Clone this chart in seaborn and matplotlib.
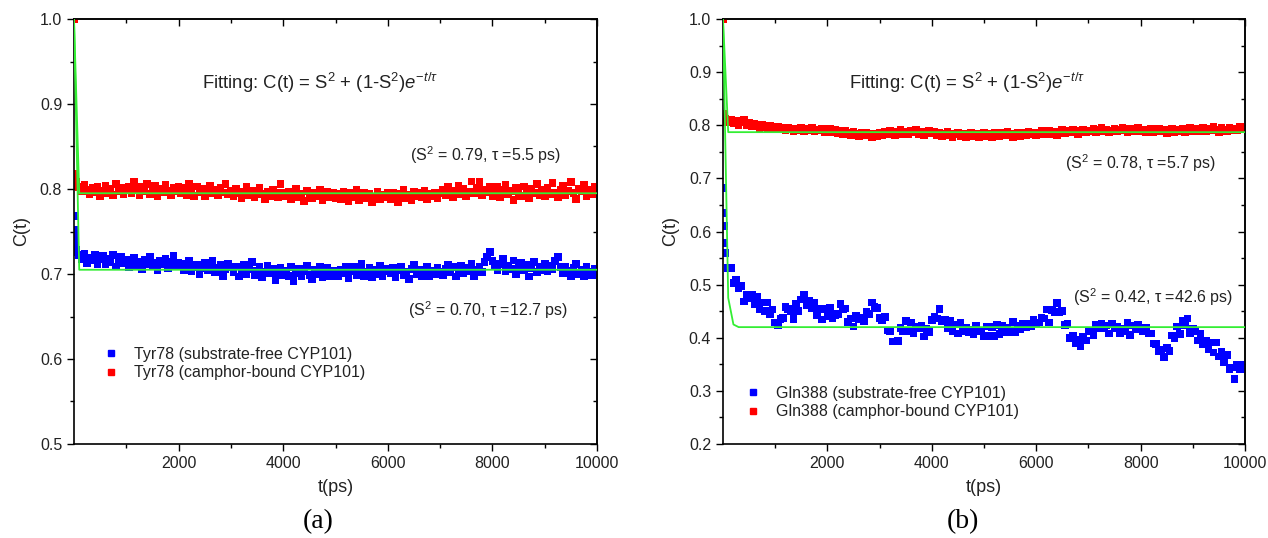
import matplotlib
matplotlib.use('Agg')
import matplotlib.pyplot as plt
import seaborn as sns
import pandas as pd
from matplotlib.ticker import MultipleLocator, FixedLocator, FormatStrFormatter
from matplotlib.lines import Line2D

sns.set_style('ticks')
plt.rcParams['font.family'] = ['Liberation Sans', 'DejaVu Sans']
plt.rcParams['mathtext.fontset'] = 'custom'
plt.rcParams['mathtext.rm'] = 'Liberation Sans'
plt.rcParams['mathtext.it'] = 'Liberation Sans:italic'
plt.rcParams['mathtext.sf'] = 'Liberation Sans'

# ---------------- data ----------------
time_ps = [0, 10, 20, 30, 40] + list(range(50, 10001, 50))

tyr_bound = [1.000, 0.818, 0.812, 0.806, 0.803,
    0.808, 0.802, 0.797, 0.805, 0.799, 0.794, 0.801, 0.796, 0.803, 0.792, 0.798, 0.804, 0.795, 0.800, 0.793, 0.806, 0.797, 0.801, 0.794, 0.799,
    0.803, 0.795, 0.808, 0.800, 0.793, 0.802, 0.797, 0.806, 0.794, 0.799, 0.804, 0.792, 0.800, 0.796, 0.805, 0.798, 0.793, 0.801, 0.797, 0.803,
    0.795, 0.801, 0.793, 0.806, 0.798, 0.792, 0.803, 0.796, 0.800, 0.791, 0.797, 0.804, 0.795, 0.799, 0.793, 0.801, 0.796, 0.806, 0.794, 0.798,
    0.792, 0.800, 0.795, 0.789, 0.797, 0.803, 0.793, 0.798, 0.790, 0.796, 0.801, 0.794, 0.788, 0.797, 0.792, 0.799, 0.795, 0.790, 0.806, 0.796,
    0.791, 0.797, 0.788, 0.795, 0.800, 0.790, 0.794, 0.786, 0.798, 0.792, 0.789, 0.796, 0.791, 0.799, 0.787, 0.793, 0.797, 0.790, 0.795, 0.789,
    0.794, 0.788, 0.797, 0.791, 0.786, 0.795, 0.790, 0.799, 0.787, 0.793, 0.796, 0.789, 0.794, 0.785, 0.791, 0.797, 0.788, 0.793, 0.790, 0.795,
    0.788, 0.796, 0.791, 0.785, 0.794, 0.799, 0.789, 0.793, 0.787, 0.797, 0.792, 0.795, 0.790, 0.798, 0.788, 0.794, 0.791, 0.796, 0.789, 0.795,
    0.799, 0.793, 0.802, 0.795, 0.790, 0.798, 0.804, 0.794, 0.800, 0.792, 0.797, 0.809, 0.795, 0.801, 0.808, 0.793, 0.799, 0.796, 0.803, 0.791,
    0.796, 0.802, 0.790, 0.799, 0.805, 0.794, 0.798, 0.787, 0.801, 0.796, 0.792, 0.803, 0.797, 0.789, 0.800, 0.795, 0.806, 0.793, 0.799, 0.791,
    0.801, 0.794, 0.807, 0.796, 0.790, 0.799, 0.804, 0.793, 0.798, 0.808, 0.795, 0.788, 0.800, 0.797, 0.805, 0.792, 0.799, 0.794, 0.802, 0.796]

tyr_free = [0.768, 0.752, 0.742, 0.735, 0.729,
    0.726, 0.722, 0.718, 0.724, 0.713, 0.719, 0.716, 0.723, 0.711, 0.717, 0.721, 0.712, 0.718, 0.714, 0.722, 0.709, 0.716, 0.720, 0.713, 0.717,
    0.708, 0.715, 0.719, 0.710, 0.714, 0.706, 0.717, 0.712, 0.720, 0.709, 0.713, 0.705, 0.716, 0.711, 0.718, 0.707, 0.714, 0.721, 0.710, 0.713,
    0.712, 0.705, 0.709, 0.716, 0.703, 0.708, 0.711, 0.700, 0.707, 0.713, 0.704, 0.709, 0.715, 0.702, 0.707, 0.711, 0.698, 0.706, 0.712, 0.708,
    0.702, 0.709, 0.697, 0.705, 0.711, 0.700, 0.706, 0.714, 0.699, 0.704, 0.708, 0.696, 0.703, 0.710, 0.701, 0.706, 0.693, 0.702, 0.707, 0.699,
    0.704, 0.698, 0.708, 0.692, 0.701, 0.706, 0.697, 0.703, 0.710, 0.699, 0.694, 0.705, 0.700, 0.708, 0.696, 0.702, 0.707, 0.698, 0.704, 0.700,
    0.697, 0.705, 0.701, 0.709, 0.695, 0.703, 0.708, 0.699, 0.704, 0.712, 0.698, 0.702, 0.707, 0.696, 0.705, 0.700, 0.710, 0.698, 0.703, 0.706,
    0.701, 0.707, 0.696, 0.704, 0.709, 0.699, 0.703, 0.694, 0.706, 0.711, 0.700, 0.705, 0.697, 0.703, 0.708, 0.698, 0.704, 0.700, 0.707, 0.702,
    0.699, 0.706, 0.711, 0.702, 0.708, 0.697, 0.704, 0.710, 0.701, 0.707, 0.703, 0.712, 0.698, 0.705, 0.709, 0.702, 0.714, 0.720, 0.726, 0.715,
    0.709, 0.704, 0.712, 0.718, 0.703, 0.710, 0.706, 0.716, 0.700, 0.708, 0.713, 0.704, 0.711, 0.697, 0.707, 0.714, 0.702, 0.709, 0.705, 0.712,
    0.703, 0.710, 0.706, 0.715, 0.720, 0.708, 0.701, 0.709, 0.704, 0.698, 0.707, 0.712, 0.700, 0.705, 0.697, 0.708, 0.703, 0.699, 0.706, 0.701]

gln_bound = [1.000, 0.822, 0.815, 0.812, 0.808,
    0.812, 0.806, 0.810, 0.803, 0.808, 0.801, 0.806, 0.810, 0.800, 0.804, 0.798, 0.803, 0.800, 0.795, 0.801, 0.797, 0.794, 0.799, 0.796, 0.792,
    0.797, 0.792, 0.795, 0.790, 0.796, 0.793, 0.788, 0.794, 0.791, 0.796, 0.789, 0.793, 0.790, 0.795, 0.788, 0.792, 0.790, 0.794, 0.787, 0.791,
    0.793, 0.787, 0.791, 0.785, 0.789, 0.784, 0.790, 0.786, 0.782, 0.788, 0.784, 0.779, 0.785, 0.781, 0.786, 0.783, 0.778, 0.784, 0.780, 0.786,
    0.782, 0.788, 0.784, 0.790, 0.785, 0.781, 0.787, 0.791, 0.784, 0.788, 0.783, 0.789, 0.786, 0.791, 0.784, 0.788, 0.782, 0.787, 0.790, 0.785,
    0.787, 0.782, 0.785, 0.779, 0.784, 0.788, 0.781, 0.777, 0.783, 0.786, 0.780, 0.784, 0.778, 0.782, 0.786, 0.779, 0.783, 0.777, 0.781, 0.785,
    0.780, 0.784, 0.778, 0.786, 0.782, 0.779, 0.785, 0.781, 0.787, 0.783, 0.778, 0.784, 0.786, 0.780, 0.785, 0.782, 0.788, 0.783, 0.786, 0.781,
    0.785, 0.789, 0.783, 0.787, 0.790, 0.784, 0.788, 0.782, 0.786, 0.791, 0.785, 0.789, 0.786, 0.792, 0.787, 0.783, 0.789, 0.791, 0.786, 0.790,
    0.788, 0.793, 0.787, 0.791, 0.795, 0.789, 0.792, 0.786, 0.790, 0.794, 0.788, 0.792, 0.796, 0.790, 0.787, 0.793, 0.789, 0.791, 0.795, 0.788,
    0.792, 0.787, 0.790, 0.794, 0.786, 0.789, 0.793, 0.788, 0.791, 0.785, 0.790, 0.794, 0.787, 0.791, 0.789, 0.793, 0.786, 0.790, 0.795, 0.788,
    0.793, 0.788, 0.792, 0.796, 0.789, 0.794, 0.790, 0.797, 0.791, 0.787, 0.795, 0.792, 0.789, 0.796, 0.791, 0.794, 0.790, 0.797, 0.792, 0.795]

gln_free = [0.682, 0.635, 0.610, 0.578, 0.560,
    0.560, 0.531, 0.531, 0.503, 0.509, 0.494, 0.497, 0.468, 0.481, 0.475, 0.481, 0.464, 0.478, 0.453, 0.466, 0.450, 0.466, 0.444, 0.453, 0.429,
    0.424, 0.435, 0.437, 0.458, 0.454, 0.450, 0.435, 0.463, 0.450, 0.472, 0.481, 0.461, 0.470, 0.456, 0.466, 0.442, 0.454, 0.434, 0.454, 0.441,
    0.456, 0.436, 0.443, 0.445, 0.463, 0.454, 0.455, 0.430, 0.436, 0.421, 0.441, 0.434, 0.438, 0.431, 0.448, 0.445, 0.466, 0.458, 0.456, 0.437,
    0.433, 0.439, 0.414, 0.413, 0.393, 0.393, 0.394, 0.418, 0.413, 0.432, 0.412, 0.429, 0.408, 0.420, 0.418, 0.423, 0.402, 0.417, 0.411, 0.433,
    0.440, 0.436, 0.454, 0.431, 0.434, 0.418, 0.432, 0.412, 0.425, 0.408, 0.428, 0.412, 0.419, 0.410, 0.415, 0.407, 0.423, 0.412, 0.414, 0.403,
    0.421, 0.403, 0.420, 0.403, 0.424, 0.407, 0.422, 0.411, 0.418, 0.411, 0.430, 0.411, 0.423, 0.417, 0.426, 0.420, 0.426, 0.421, 0.433, 0.428,
    0.429, 0.437, 0.436, 0.453, 0.429, 0.452, 0.449, 0.465, 0.449, 0.450, 0.424, 0.427, 0.400, 0.404, 0.389, 0.396, 0.384, 0.402, 0.395, 0.412,
    0.413, 0.404, 0.425, 0.418, 0.426, 0.418, 0.423, 0.408, 0.427, 0.418, 0.420, 0.409, 0.416, 0.413, 0.428, 0.405, 0.423, 0.416, 0.425, 0.416,
    0.412, 0.418, 0.408, 0.408, 0.389, 0.388, 0.374, 0.377, 0.364, 0.381, 0.375, 0.404, 0.399, 0.421, 0.407, 0.431, 0.424, 0.436, 0.409, 0.417,
    0.413, 0.395, 0.407, 0.387, 0.395, 0.378, 0.391, 0.372, 0.391, 0.365, 0.374, 0.354, 0.367, 0.341, 0.344, 0.322, 0.349, 0.341, 0.349, 0.341]

# fitted curves (as drawn, sampled coarsely)
fit_t_short = [0, 100, 10000]
fit_tyr_free = [1.0, 0.705, 0.705]
fit_tyr_bound = [1.0, 0.795, 0.795]
fit_gln_bound = [1.0, 0.787, 0.787]
fit_t_long = [0, 100, 200, 300, 10000]
fit_gln_free = [1.0, 0.475, 0.425, 0.420, 0.420]

labels_a = ['Tyr78 (substrate-free CYP101)', 'Tyr78 (camphor-bound CYP101)']
labels_b = ['Gln388 (substrate-free CYP101)', 'Gln388 (camphor-bound CYP101)']
fit_text = r'Fitting: C(t) = S$^{2}$ + (1-S$^{2}$)$e^{-t/\tau}$'
params_a = ['(S$^{2}$ = 0.79, τ =5.5 ps)', '(S$^{2}$ = 0.70, τ =12.7 ps)']
params_b = ['(S$^{2}$ = 0.78, τ =5.7 ps)', '(S$^{2}$ = 0.42, τ =42.6 ps)']
x_major = [2000, 4000, 6000, 8000, 10000]
x_minor = [1000, 3000, 5000, 7000, 9000]

BLUE = '#0000ff'
RED = '#ff0000'
GREEN = '#33ee33'

W, H = 1268, 538
fig = plt.figure(figsize=(W / 100, H / 100), dpi=100)
axL = fig.add_axes([74 / W, 1 - 444 / H, 523 / W, 425 / H])
axR = fig.add_axes([723 / W, 1 - 444 / H, 522 / W, 425 / H])


def draw_panel(ax, free, bound, fit_free_t, fit_free, fit_bound_t, fit_bound, ylim, labels,
               params, ppos, fitpos, legpos, letter, letterx):
    df = pd.DataFrame({'t': time_ps * 2, 'C': free + bound,
                       'series': [labels[0]] * len(time_ps) + [labels[1]] * len(time_ps)})
    sns.scatterplot(data=df, x='t', y='C', hue='series', palette={labels[0]: BLUE, labels[1]: RED},
                    marker='s', s=30, linewidth=0, ax=ax, legend=False, zorder=2)
    sns.lineplot(x=fit_free_t, y=fit_free, color=GREEN, lw=1.3, ax=ax, estimator=None,
                 sort=False, zorder=3)
    sns.lineplot(x=fit_bound_t, y=fit_bound, color=GREEN, lw=1.3, ax=ax, estimator=None,
                 sort=False, zorder=3)
    ax.set_xlim(0, 10000)
    ax.set_ylim(*ylim)
    ax.xaxis.set_major_locator(FixedLocator(x_major))
    ax.xaxis.set_minor_locator(FixedLocator(x_minor))
    ax.yaxis.set_major_locator(MultipleLocator(0.1))
    ax.yaxis.set_minor_locator(MultipleLocator(0.05))
    ax.yaxis.set_major_formatter(FormatStrFormatter('%.1f'))
    ax.tick_params(which='both', direction='out', color='black', width=1.0, labelsize=11.5,
                   labelcolor='#222222', top=False, right=False)
    ax.tick_params(which='major', length=5)
    ax.tick_params(which='minor', length=3)
    for sp in ax.spines.values():
        sp.set_linewidth(1.2)
        sp.set_color('black')
    secx = ax.secondary_xaxis('top')
    secx.xaxis.set_major_locator(FixedLocator(x_major))
    secx.xaxis.set_minor_locator(FixedLocator(x_minor))
    secx.tick_params(which='both', direction='in', labeltop=False, width=1.0, color='black')
    secx.tick_params(which='major', length=5)
    secx.tick_params(which='minor', length=3)
    secy = ax.secondary_yaxis('right')
    secy.yaxis.set_major_locator(MultipleLocator(0.1))
    secy.yaxis.set_minor_locator(MultipleLocator(0.05))
    secy.tick_params(which='both', direction='in', labelright=False, width=1.0, color='black')
    secy.tick_params(which='major', length=5)
    secy.tick_params(which='minor', length=3)
    for s in (secx, secy):
        for sp in s.spines.values():
            sp.set_linewidth(1.2)

    ax.set_xlabel('t(ps)', fontsize=13, labelpad=6, color='#222222')
    ax.set_ylabel('C(t)', fontsize=13, labelpad=7, color='#222222')

    ax.text(fitpos[0], fitpos[1], fit_text, transform=ax.transAxes, ha='center', va='center',
            fontsize=13.3, color='#222222')
    for txt, (px, py) in zip(params, ppos):
        ax.text(px, py, txt, transform=ax.transAxes, ha='center', va='center', fontsize=11.5,
                color='#222222')
    handles = [Line2D([], [], marker='s', ls='', color=BLUE, markersize=4),
               Line2D([], [], marker='s', ls='', color=RED, markersize=4)]
    leg = ax.legend(handles, labels, loc='upper left', bbox_to_anchor=legpos, frameon=False,
                    fontsize=11.5, handlelength=1.0, handletextpad=0.95, labelspacing=0.2,
                    borderpad=0, borderaxespad=0)
    for t in leg.get_texts():
        t.set_color('#222222')
    ax.text(letterx, -0.183, letter, transform=ax.transAxes, ha='center', va='center',
            fontsize=20, family=['Liberation Serif', 'DejaVu Serif'], color='black')


draw_panel(axL, tyr_free, tyr_bound, fit_t_short, fit_tyr_free, fit_t_short, fit_tyr_bound,
           (0.5, 1.0), labels_a, params_a,
           [((486 - 74) / 523, (444 - 155) / 425), ((488 - 74) / 523, (444 - 310) / 425)],
           ((320 - 74) / 523, (444 - 83) / 425),
           ((103 - 74) / 523, (444 - 347) / 425), '(a)', (318 - 74) / 523)

draw_panel(axR, gln_free, gln_bound, fit_t_long, fit_gln_free, fit_t_short, fit_gln_bound,
           (0.2, 1.0), labels_b, params_b,
           [((1141 - 723) / 522, (444 - 163) / 425), ((1153 - 723) / 522, (444 - 297) / 425)],
           ((967 - 723) / 522, (444 - 83) / 425),
           ((745 - 723) / 522, (444 - 386) / 425), '(b)', (963 - 723) / 522)

fig.savefig('out.png', dpi=100)
